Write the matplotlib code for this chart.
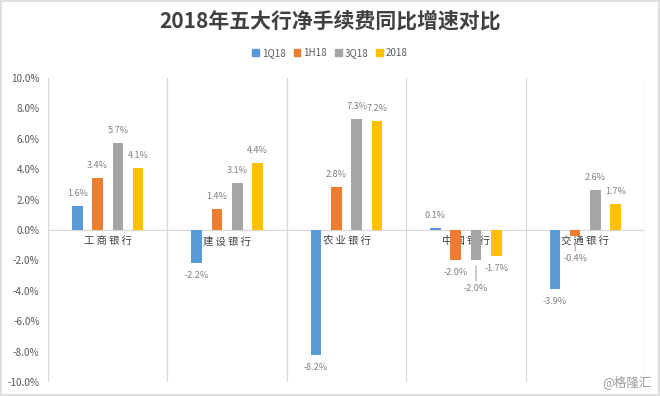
import matplotlib
matplotlib.use('Agg')
import matplotlib.pyplot as plt
from matplotlib.patches import Rectangle, Patch

plt.rcParams['font.family'] = ['Noto Sans CJK SC', 'DejaVu Sans']

banks = ['工商银行', '建设银行', '农业银行', '中国银行', '交通银行']
periods = ['1Q18', '1H18', '3Q18', '2018']
q1_18 = [1.6, -2.2, -8.2, 0.1, -3.9]
h1_18 = [3.4, 1.4, 2.8, -2.0, -0.4]
q3_18 = [5.7, 3.1, 7.3, -2.0, 2.6]
y2018 = [4.1, 4.4, 7.2, -1.7, 1.7]
series = [q1_18, h1_18, q3_18, y2018]
colors = ['#5B9BD5', '#ED7D31', '#A5A5A5', '#FFC000']

fig = plt.figure(figsize=(6.6, 3.96), dpi=100)
ax = fig.add_axes([48/660, 1 - 382/396, 597/660, 304/396])

width = 0.088
step = 0.17
# labels pushed further out (with leader line): (series, bank) -> offset in pt
far = {(2, 3): 20, (1, 4): 16}

for s, vals in enumerate(series):
    off = (s - 1.5) * step
    for i, v in enumerate(vals):
        x = i + off
        ax.bar(x, v, width=width, color=colors[s], zorder=3)
        sign = 1 if v >= 0 else -1
        d = far.get((s, i), 9)
        if (s, i) in far:
            ax.annotate(f'{v:.1f}%', (x, v), xytext=(0, sign * d), textcoords='offset points',
                        ha='center', va='center', fontsize=6.5, color='#7f7f7f',
                        arrowprops=dict(arrowstyle='-', color='#a6a6a6', lw=0.8,
                                        shrinkA=0, shrinkB=4), zorder=4)
        else:
            ax.annotate(f'{v:.1f}%', (x, v), xytext=(0, sign * d), textcoords='offset points',
                        ha='center', va='center', fontsize=6.5, color='#7f7f7f', zorder=4)

for i, b in enumerate(banks):
    ax.annotate('\u2009'.join(b), (i, 0), xytext=(0, -4.5), textcoords='offset points',
                ha='center', va='top', fontsize=7.5, color='#404040', zorder=2)

ax.set_xlim(-0.5, 4.5)
ax.set_ylim(-10, 10)
ax.set_xticks([])
ax.set_yticks(range(-10, 11, 2))
ax.set_yticklabels([f'{t:.1f}%' for t in range(-10, 11, 2)], fontsize=7.2, color='#595959')
ax.tick_params(axis='y', length=0, pad=6)
for sp in ax.spines.values():
    sp.set_visible(False)
for xb in [-0.5, 0.5, 1.5, 2.5, 3.5, 4.5]:
    ax.axvline(xb, color='#d9d9d9', lw=0.9, zorder=1)
ax.axhline(0, color='#d9d9d9', lw=0.9, zorder=1)

fig.text(0.5, 1 - 21.5/396, '2018年五大行净手续费同比增速对比', ha='center', va='center',
         fontsize=15, fontweight='bold', color='#404040')

handles = [Patch(color=c) for c in colors]
fig.legend(handles, periods, loc='center', bbox_to_anchor=(0.5, 1 - 53/396), ncol=4,
           frameon=False, fontsize=7, handlelength=0.7, handleheight=0.7,
           handletextpad=0.3, columnspacing=0.8, labelcolor='#595959')

fig.text(652/660, 1 - 382/396, '@格隆汇', ha='right', va='center', fontsize=9, color='#9a9a9a')

fig.patches.append(Rectangle((0.002, 0.003), 0.996, 0.994, transform=fig.transFigure,
                             fill=False, edgecolor='#d9d9d9', lw=1.2))

fig.savefig('out.png', dpi=100)
